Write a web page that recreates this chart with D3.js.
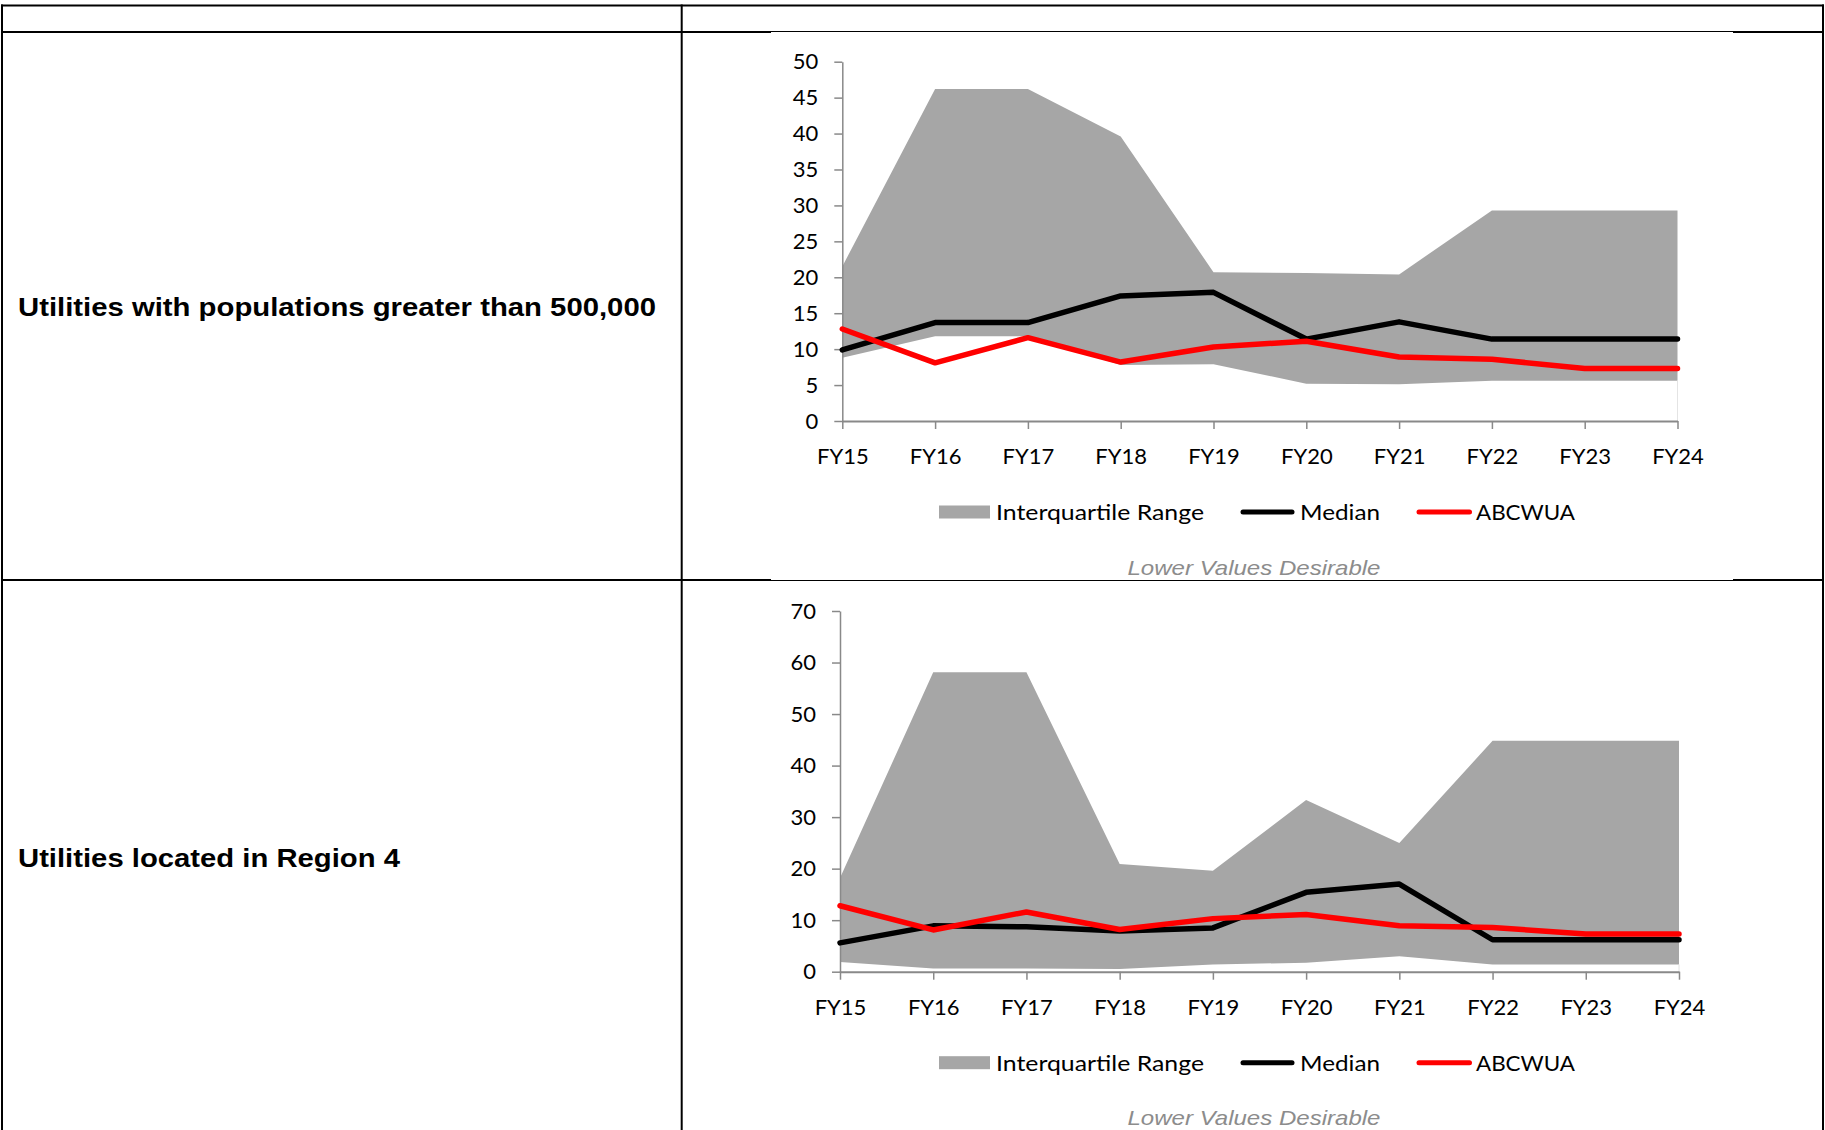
<!DOCTYPE html>
<html>
<head>
<meta charset="utf-8">
<script src="https://cdn.jsdelivr.net/npm/d3@7"></script>
<style>
  html, body { margin: 0; padding: 0; background: #fff; }
  svg { display: block; }
</style>
</head>
<body>
<svg id="page" width="1825" height="1130"></svg>
<script>
// ---- data -------------------------------------------------------------
const fiscalYears = ["FY15", "FY16", "FY17", "FY18", "FY19", "FY20", "FY21", "FY22", "FY23", "FY24"];

// ABCWUA's own value, shared by both peer groups
const abcwua = [12.8, 8.1, 11.6, 8.2, 10.3, 11.1, 8.9, 8.6, 7.3, 7.3];

// Peer group: utilities with populations greater than 500,000
const largeUtilQ1     = [8.8, 11.8, 11.8, 7.8, 7.9, 5.2, 5.1, 5.6, 5.6, 5.6];
const largeUtilQ3     = [21.5, 46.2, 46.2, 39.6, 20.7, 20.6, 20.4, 29.3, 29.3, 29.3];
const largeUtilMedian = [9.9, 13.7, 13.7, 17.4, 17.9, 11.4, 13.8, 11.4, 11.4, 11.4];
const largeUtilTicks  = [0, 5, 10, 15, 20, 25, 30, 35, 40, 45, 50];

// Peer group: utilities located in Region 4
const region4Q1     = [1.9, 0.6, 0.6, 0.5, 1.4, 1.75, 3.0, 1.4, 1.4, 1.4];
const region4Q3     = [18.2, 58.1, 58.1, 20.9, 19.6, 33.3, 25.0, 44.8, 44.8, 44.8];
const region4Median = [5.6, 8.9, 8.7, 7.9, 8.5, 15.4, 17.0, 6.2, 6.2, 6.2];
const region4Ticks  = [0, 10, 20, 30, 40, 50, 60, 70];

const rowLabels    = ["Utilities with populations greater than 500,000", "Utilities located in Region 4"];
const legendLabels = ["Interquartile Range", "Median", "ABCWUA"];
const noteText     = "Lower Values Desirable";

// ---- layout -------------------------------------------------------------
const svg = d3.select("#page");
svg.append("rect").attr("width", 1825).attr("height", 1130).attr("fill", "#fff");

const AXIS_GREY = "#898989";
const BAND_GREY = "#a6a6a6";
const CHART_FONT = "Lato, Carlito, 'Open Sans', sans-serif";
const TABLE_FONT = "'Liberation Sans', Arial, sans-serif";

// table grid
const grid = svg.append("g").attr("stroke", "#000").attr("stroke-width", 2);
grid.append("line").attr("x1", 1).attr("x2", 1824).attr("y1", 5.5).attr("y2", 5.5);
grid.append("line").attr("x1", 1).attr("x2", 1824).attr("y1", 32).attr("y2", 32);
grid.append("line").attr("x1", 1).attr("x2", 1824).attr("y1", 580).attr("y2", 580);
[2, 681.7, 1823].forEach(xv =>
  grid.append("line").attr("x1", xv).attr("x2", xv).attr("y1", 4.5).attr("y2", 1130));

// chart frames sit on top of the grid with a white fill
svg.append("rect").attr("x", 771).attr("y", 32).attr("width", 962).attr("height", 548).attr("fill", "#fff");
svg.append("rect").attr("x", 771).attr("y", 581).attr("width", 962).attr("height", 560).attr("fill", "#fff");

// row headings
const headingLength = [638, 382];
const headingBaseline = [316, 866.5];
rowLabels.forEach((t, i) => {
  svg.append("text")
    .attr("x", 18).attr("y", headingBaseline[i])
    .attr("font-family", TABLE_FONT).attr("font-weight", "bold").attr("font-size", 25)
    .attr("textLength", headingLength[i]).attr("lengthAdjust", "spacingAndGlyphs")
    .attr("fill", "#000")
    .text(t);
});

function drawPanel(p) {
  const x = d3.scalePoint().domain(fiscalYears).range([p.x0, p.x1]);
  const y = d3.scaleLinear().domain([0, p.ticks[p.ticks.length - 1]]).range([p.base, p.top]);
  const rows = fiscalYears.map((fy, i) => ({ fy, lo: p.q1[i], hi: p.q3[i], med: p.median[i], own: abcwua[i] }));
  const g = svg.append("g");

  // interquartile band
  g.append("path").datum(rows)
    .attr("d", d3.area().x(d => x(d.fy)).y0(d => y(d.lo)).y1(d => y(d.hi)))
    .attr("fill", BAND_GREY);
  // faint edge of the blank fill beneath the band at the last year
  const last = rows[rows.length - 1];
  g.append("line")
    .attr("x1", x(last.fy)).attr("x2", x(last.fy))
    .attr("y1", y(last.lo)).attr("y2", y(0))
    .attr("stroke", "#e4e4e4").attr("stroke-width", 1);

  // y axis
  const ya = g.append("g").attr("transform", `translate(${p.x0},0)`)
    .call(d3.axisLeft(y).tickValues(p.ticks).tickSize(8).tickSizeOuter(0).tickPadding(16));
  ya.select(".domain").attr("stroke", AXIS_GREY).attr("stroke-width", 1.5);
  ya.selectAll(".tick line").attr("stroke", AXIS_GREY).attr("stroke-width", 1.5);
  ya.selectAll("text").attr("font-family", CHART_FONT).attr("font-size", 22).attr("fill", "#000");

  // x axis
  const xa = g.append("g").attr("transform", `translate(0,${p.base})`)
    .call(d3.axisBottom(x).tickSize(8).tickSizeOuter(0));
  xa.select(".domain").attr("stroke", AXIS_GREY).attr("stroke-width", 2);
  xa.selectAll(".tick line").attr("stroke", AXIS_GREY).attr("stroke-width", 1.5);
  xa.selectAll("text").attr("font-family", CHART_FONT).attr("font-size", 22).attr("fill", "#000")
    .attr("y", 43).attr("dy", null);

  // median and ABCWUA
  const lineStyle = (path, colour) => path
    .attr("fill", "none").attr("stroke", colour).attr("stroke-width", 5.5)
    .attr("stroke-linejoin", "round").attr("stroke-linecap", "round");
  lineStyle(g.append("path").datum(rows).attr("d", d3.line().x(d => x(d.fy)).y(d => y(d.med))), "#000");
  lineStyle(g.append("path").datum(rows).attr("d", d3.line().x(d => x(d.fy)).y(d => y(d.own))), "#ff0000");

  // legend
  const ly = p.base + 91;
  const lg = g.append("g");
  lg.append("rect").attr("x", 939).attr("y", ly - 6.5).attr("width", 51).attr("height", 13).attr("fill", BAND_GREY);
  lineStyle(lg.append("line").attr("x1", 1243).attr("x2", 1292).attr("y1", ly).attr("y2", ly), "#000").attr("stroke-width", 5);
  lineStyle(lg.append("line").attr("x1", 1419).attr("x2", 1469.5).attr("y1", ly).attr("y2", ly), "#ff0000").attr("stroke-width", 5);
  const legendX = [996, 1300, 1476];
  const legendW = [208, 80, 99];
  legendLabels.forEach((t, i) => {
    lg.append("text").attr("x", legendX[i]).attr("y", ly + 8)
      .attr("font-family", CHART_FONT).attr("font-size", 22).attr("fill", "#000")
      .attr("textLength", legendW[i]).attr("lengthAdjust", "spacingAndGlyphs")
      .text(t);
  });

  // note under the legend
  g.append("text").attr("x", 1254).attr("y", p.base + 153.5)
    .attr("text-anchor", "middle")
    .attr("font-family", TABLE_FONT).attr("font-style", "italic").attr("font-size", 21)
    .attr("textLength", 253).attr("lengthAdjust", "spacingAndGlyphs")
    .attr("fill", "#8c8c8c")
    .text(noteText);
}

drawPanel({ x0: 842.3, x1: 1677.5, base: 421, top: 61.7,
            q1: largeUtilQ1, q3: largeUtilQ3, median: largeUtilMedian, ticks: largeUtilTicks });
drawPanel({ x0: 840, x1: 1679, base: 971.7, top: 611,
            q1: region4Q1, q3: region4Q3, median: region4Median, ticks: region4Ticks });
</script>
</body>
</html>
